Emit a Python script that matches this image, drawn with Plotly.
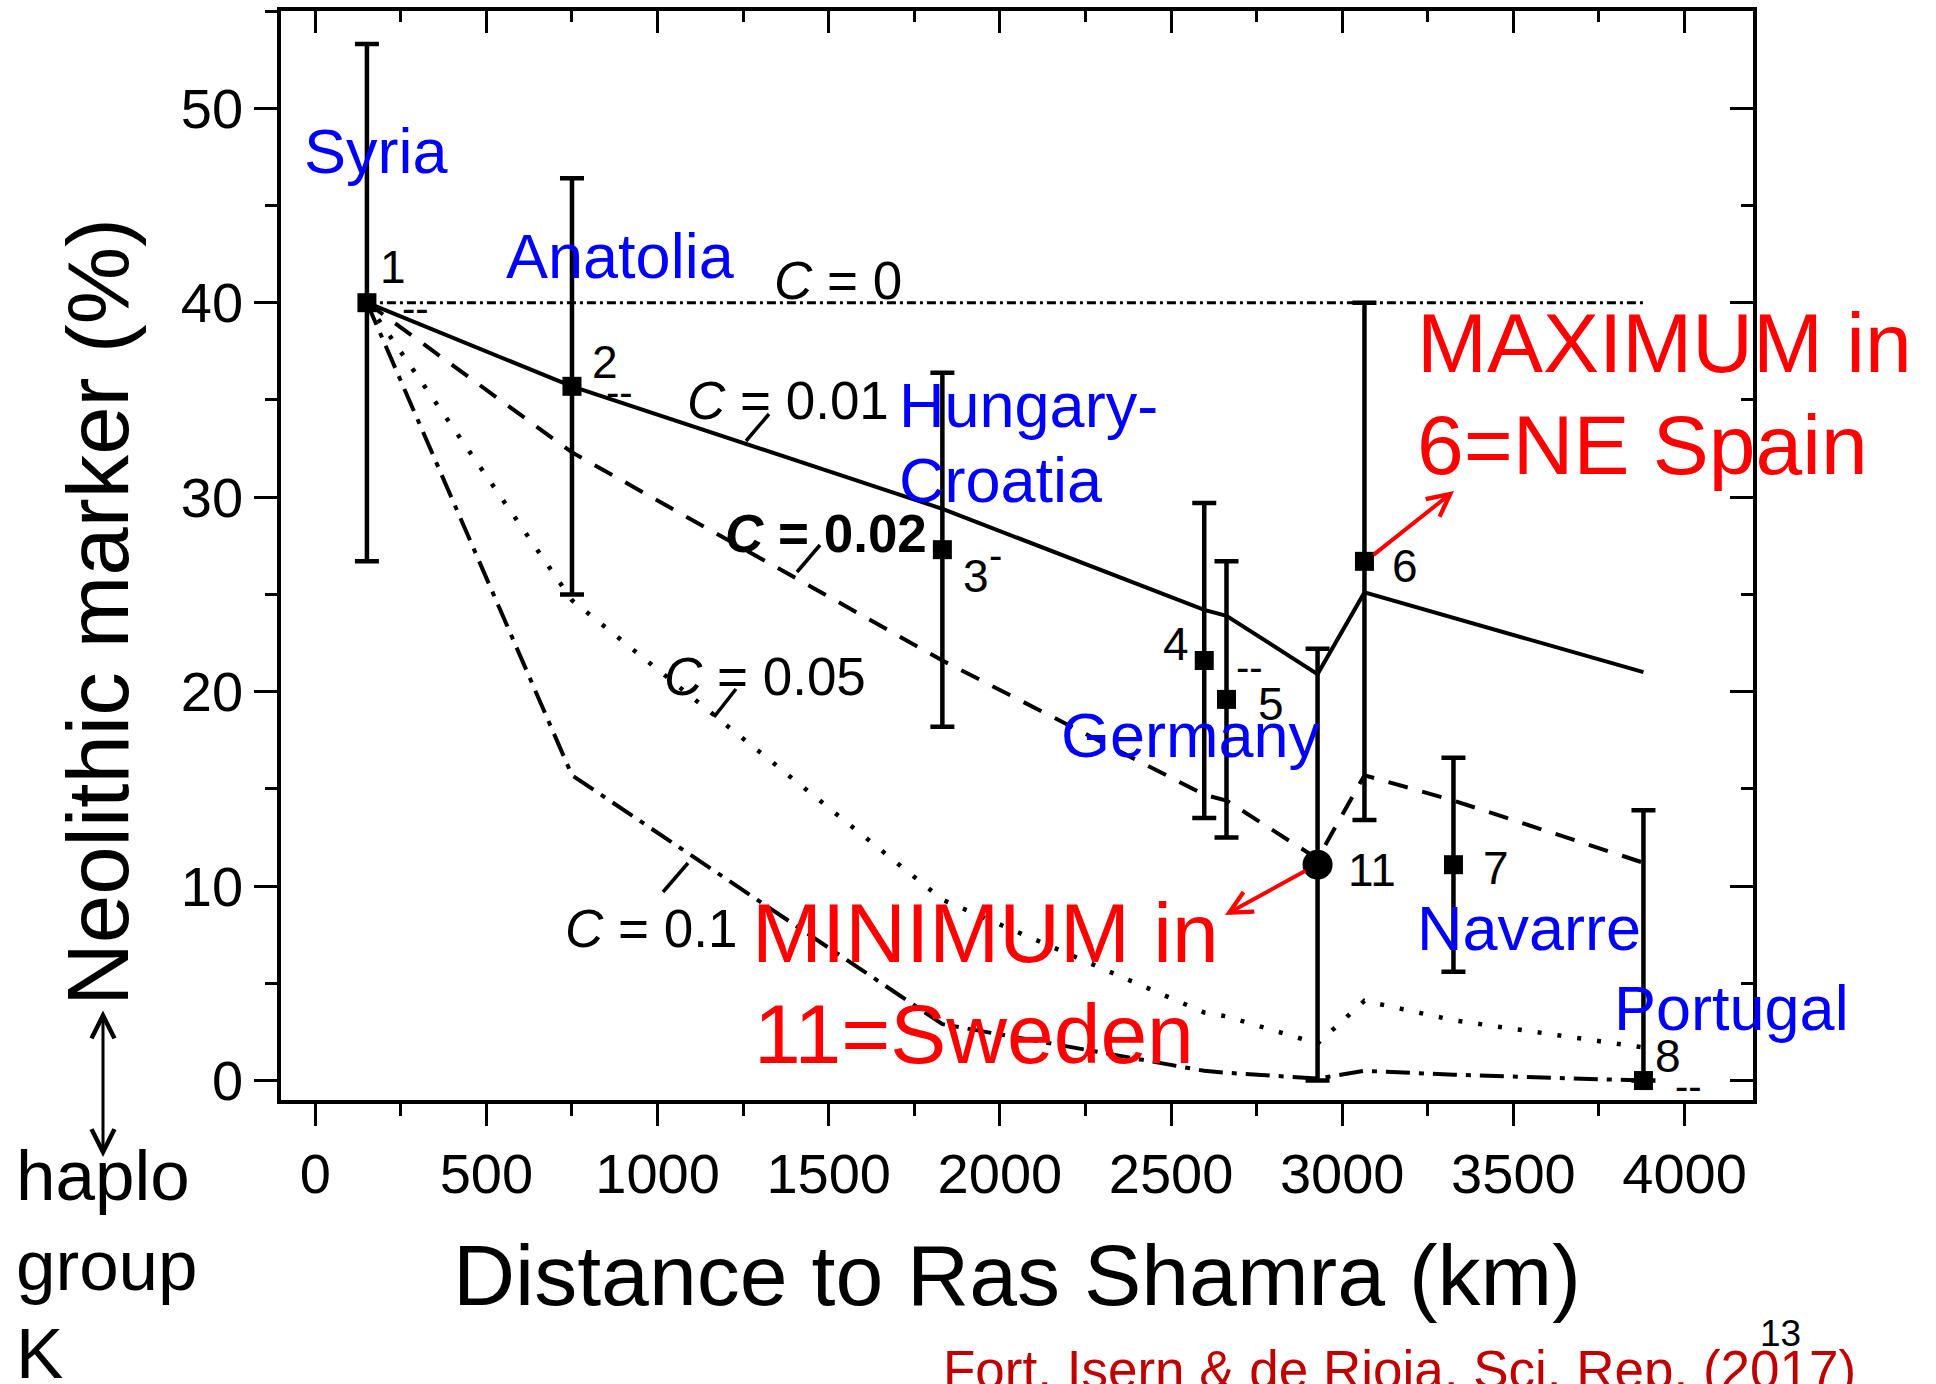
import plotly.graph_objects as go

# ---------------- data ----------------
site_labels = ["1", "2", "3", "4", "5", "6", "7", "8"]
site_distance_km = [151, 750, 1832, 2597, 2662, 3065, 3325, 3880]
site_marker_pct = [40.0, 35.7, 27.3, 21.6, 19.6, 26.7, 11.1, 0.0]
site_err_plus = [13.3, 10.7, 9.1, 8.1, 7.1, 13.3, 5.5, 13.9]
site_err_minus = [13.3, 10.7, 9.1, 8.1, 7.1, 13.3, 5.5, 0.0]

sweden_labels = ["11"]
sweden_distance_km = [2928]
sweden_marker_pct = [11.1]
sweden_err = [11.1]

model_distance_km = [151, 750, 1832, 2597, 2662, 2928, 3065, 3325, 3880]
model_c0 = [40.0, 40.0, 40.0, 40.0, 40.0, 40.0, 40.0, 40.0, 40.0]
model_c001 = [40.0, 35.7, 29.4, 24.2, 23.9, 20.9, 25.1, 23.8, 21.0]
model_c002 = [40.0, 32.3, 21.6, 14.7, 14.4, 11.4, 15.7, 14.4, 11.2]
model_c005 = [40.0, 24.7, 9.3, 3.5, 3.3, 1.9, 4.1, 3.1, 1.7]
model_c01 = [40.0, 15.7, 2.9, 0.5, 0.4, 0.1, 0.5, 0.3, 0.0]

x_tick_vals = [0, 500, 1000, 1500, 2000, 2500, 3000, 3500, 4000]
y_tick_vals = [0, 10, 20, 30, 40, 50]

# ---------------- layout geometry ----------------
W, H = 1936, 1384
PL, PR, PT, PB = 281, 1753, 11, 1100
XR = [-100, 4200]
YR = [-1, 55]
FONT = "Liberation Sans, Arial, sans-serif"


def xp(px):
    return (px - PL) / (PR - PL)


def yp(py):
    return (PB - py) / (PB - PT)


def dx(px):
    return XR[0] + (px - PL) / (PR - PL) * (XR[1] - XR[0])


def dy(py):
    return YR[0] + (PB - py) / (PB - PT) * (YR[1] - YR[0])


def txt(text, px, pyc, size, color="black", xanchor="left", **kw):
    return dict(text=text, x=xp(px), y=yp(pyc), xref="paper", yref="paper",
                xanchor=xanchor, yanchor="middle", showarrow=False,
                font=dict(family=FONT, size=size, color=color), **kw)


def base(baseline, size):
    return baseline - 0.3465 * size


fig = go.Figure()

# model curves
line_styles = [
    (model_c0, "9px,4px,3px,4px", 3),
    (model_c001, "solid", 4),
    (model_c002, "20px,15px", 4),
    (model_c005, "4px,16px", 4.5),
    (model_c01, "24px,9px,5px,9px", 4),
]
for vals, dash, w in line_styles:
    fig.add_trace(go.Scatter(x=model_distance_km, y=vals, mode="lines",
                             line=dict(color="black", width=w, dash=dash),
                             showlegend=False, hoverinfo="skip"))

# data points
fig.add_trace(go.Scatter(
    x=site_distance_km, y=site_marker_pct, mode="markers",
    marker=dict(symbol="square", size=19, color="black"),
    error_y=dict(type="data", symmetric=False, array=site_err_plus,
                 arrayminus=site_err_minus, color="black", thickness=4.5, width=12),
    showlegend=False))
fig.add_trace(go.Scatter(
    x=sweden_distance_km, y=sweden_marker_pct, mode="markers",
    marker=dict(symbol="circle", size=30, color="black"),
    error_y=dict(type="data", array=sweden_err, color="black", thickness=4.5, width=12),
    showlegend=False))

# dummy trace for the mirrored (top / right) axes
fig.add_trace(go.Scatter(x=[None], y=[None], xaxis="x2", yaxis="y2",
                         showlegend=False, hoverinfo="skip"))

ann = []
# point number labels (offset from their points, in px)
label_shift = {"1": (26, 36), "2": (33, 24), "3": (34, -26), "4": (-28, 17),
               "5": (44, -5), "6": (41, -5), "7": (43, -3), "8": (25, 25), "11": (54, -5)}
for lab, d, v in list(zip(site_labels, site_distance_km, site_marker_pct)) + \
        list(zip(sweden_labels, sweden_distance_km, sweden_marker_pct)):
    sx, sy = label_shift[lab]
    ann.append(dict(text=lab, x=d, y=v, xref="x", yref="y", showarrow=False,
                    xanchor="center", yanchor="middle", xshift=sx, yshift=sy,
                    font=dict(family=FONT, size=46, color="black")))

# small dash marks
for t, px, pyc in [("--", 415, 308), ("--", 619, 392), ("-", 995, 555),
                   ("--", 1249, 667), ("--", 1688, 1086)]:
    ann.append(txt(t, px, pyc, 40, xanchor="center"))

# C labels
ann.append(txt("<i>C</i> = 0", 772, 281, 53))
ann.append(txt("<i>C</i> = 0.01", 685, 400, 53))
ann.append(txt("<b><i>C</i> = 0.02</b>", 723, 533, 53))
ann.append(txt("<i>C</i> = 0.05", 662, 676, 53))
ann.append(txt("<i>C</i> = 0.1", 563, 928, 53))

# blue region labels
BLUE = "#0000FF"
for t, px, bl in [("Syria", 302, 173), ("Anatolia", 504, 278), ("Hungary-", 897, 427),
                  ("Croatia", 897, 502), ("Germany", 1059, 757), ("Navarre", 1415, 950),
                  ("Portugal", 1612, 1030)]:
    ann.append(txt(t, px, base(bl, 63), 63, BLUE))

# red annotations
RED = "#FF0000"
for t, px, bl in [("MAXIMUM in", 1415, 372), ("6=NE Spain", 1415, 474),
                  ("MINIMUM in", 750, 962), ("11=Sweden", 752, 1063)]:
    ann.append(txt(t, px, base(bl, 84), 84, RED))

# red arrows
ann.append(dict(text="", x=dx(1454), y=dy(491), xref="x", yref="y",
                ax=dx(1372), ay=dy(556), axref="x", ayref="y", showarrow=True,
                arrowhead=5, arrowsize=1.1, arrowwidth=4, arrowcolor=RED))
ann.append(dict(text="", x=dx(1225), y=dy(915), xref="x", yref="y",
                ax=dx(1307), ay=dy(870), axref="x", ayref="y", showarrow=True,
                arrowhead=5, arrowsize=1.1, arrowwidth=4, arrowcolor=RED))

# axis titles
ann.append(txt("Distance to Ras Shamra (km)", 1017, base(1305, 86), 86, xanchor="center"))
ann.append(txt("Neolithic marker (%)", 97, 612, 87, xanchor="center", textangle=-90))

# haplogroup K note and double arrow
for t, bl in [("haplo", 1200), ("group", 1290), ("K", 1378)]:
    ann.append(txt(t, 14, base(bl, 71), 71))
ann.append(dict(text="", x=xp(103), y=yp(1157), xref="paper", yref="paper",
                ax=0, ay=1009 - 1157, axref="pixel", ayref="pixel", showarrow=True,
                arrowhead=5, startarrowhead=5, arrowside="end+start",
                arrowsize=1.5, startarrowsize=1.5, arrowwidth=3, arrowcolor="black"))

# citation and page number
ann.append(txt("Fort, Isern &amp; de Rioja, Sci. Rep. (2017)", 941, base(1388, 53), 53, "#C00000"))
ann.append(txt("13", 1780, 1333, 37, xanchor="center"))

# leader lines for C labels
shapes = []
for (x0, y0, x1, y1) in [(769, 414, 746, 441), (820, 545, 797, 572),
                         (736, 689, 714, 717), (688, 863, 663, 892)]:
    shapes.append(dict(type="line", xref="x", yref="y", x0=dx(x0), y0=dy(y0),
                       x1=dx(x1), y1=dy(y1), line=dict(color="black", width=3.5)))

axis_common = dict(showline=True, linewidth=3.5, linecolor="black", showgrid=False,
                   zeroline=False, tickwidth=3, tickcolor="black")

fig.update_layout(
    width=W, height=H,
    margin=dict(l=PL, r=W - PR, t=PT, b=H - PB, pad=0),
    paper_bgcolor="white", plot_bgcolor="white",
    font=dict(family=FONT, color="black"),
    showlegend=False,
    xaxis=dict(range=XR, tickvals=x_tick_vals, ticks="outside", ticklen=22,
               tickfont=dict(size=56, family=FONT, color="black"),
               minor=dict(dtick=250, tick0=0, ticks="outside", ticklen=12,
                          tickwidth=3, tickcolor="black"),
               **axis_common),
    yaxis=dict(range=YR, tickvals=y_tick_vals, ticks="outside", ticklen=23,
               tickfont=dict(size=56, family=FONT, color="black"),
               minor=dict(dtick=5, tick0=0, ticks="outside", ticklen=12,
                          tickwidth=3, tickcolor="black"),
               **axis_common),
    xaxis2=dict(range=XR, overlaying="x", side="top", anchor="y", tickvals=x_tick_vals,
                ticks="inside", ticklen=22, showticklabels=False,
                minor=dict(dtick=250, tick0=0, ticks="inside", ticklen=11,
                           tickwidth=3, tickcolor="black"),
                **axis_common),
    yaxis2=dict(range=YR, overlaying="y", side="right", anchor="x", tickvals=y_tick_vals,
                ticks="inside", ticklen=23, showticklabels=False,
                minor=dict(dtick=5, tick0=0, ticks="inside", ticklen=12,
                           tickwidth=3, tickcolor="black"),
                **axis_common),
    annotations=ann,
    shapes=shapes,
)

fig.write_html("out.html")
